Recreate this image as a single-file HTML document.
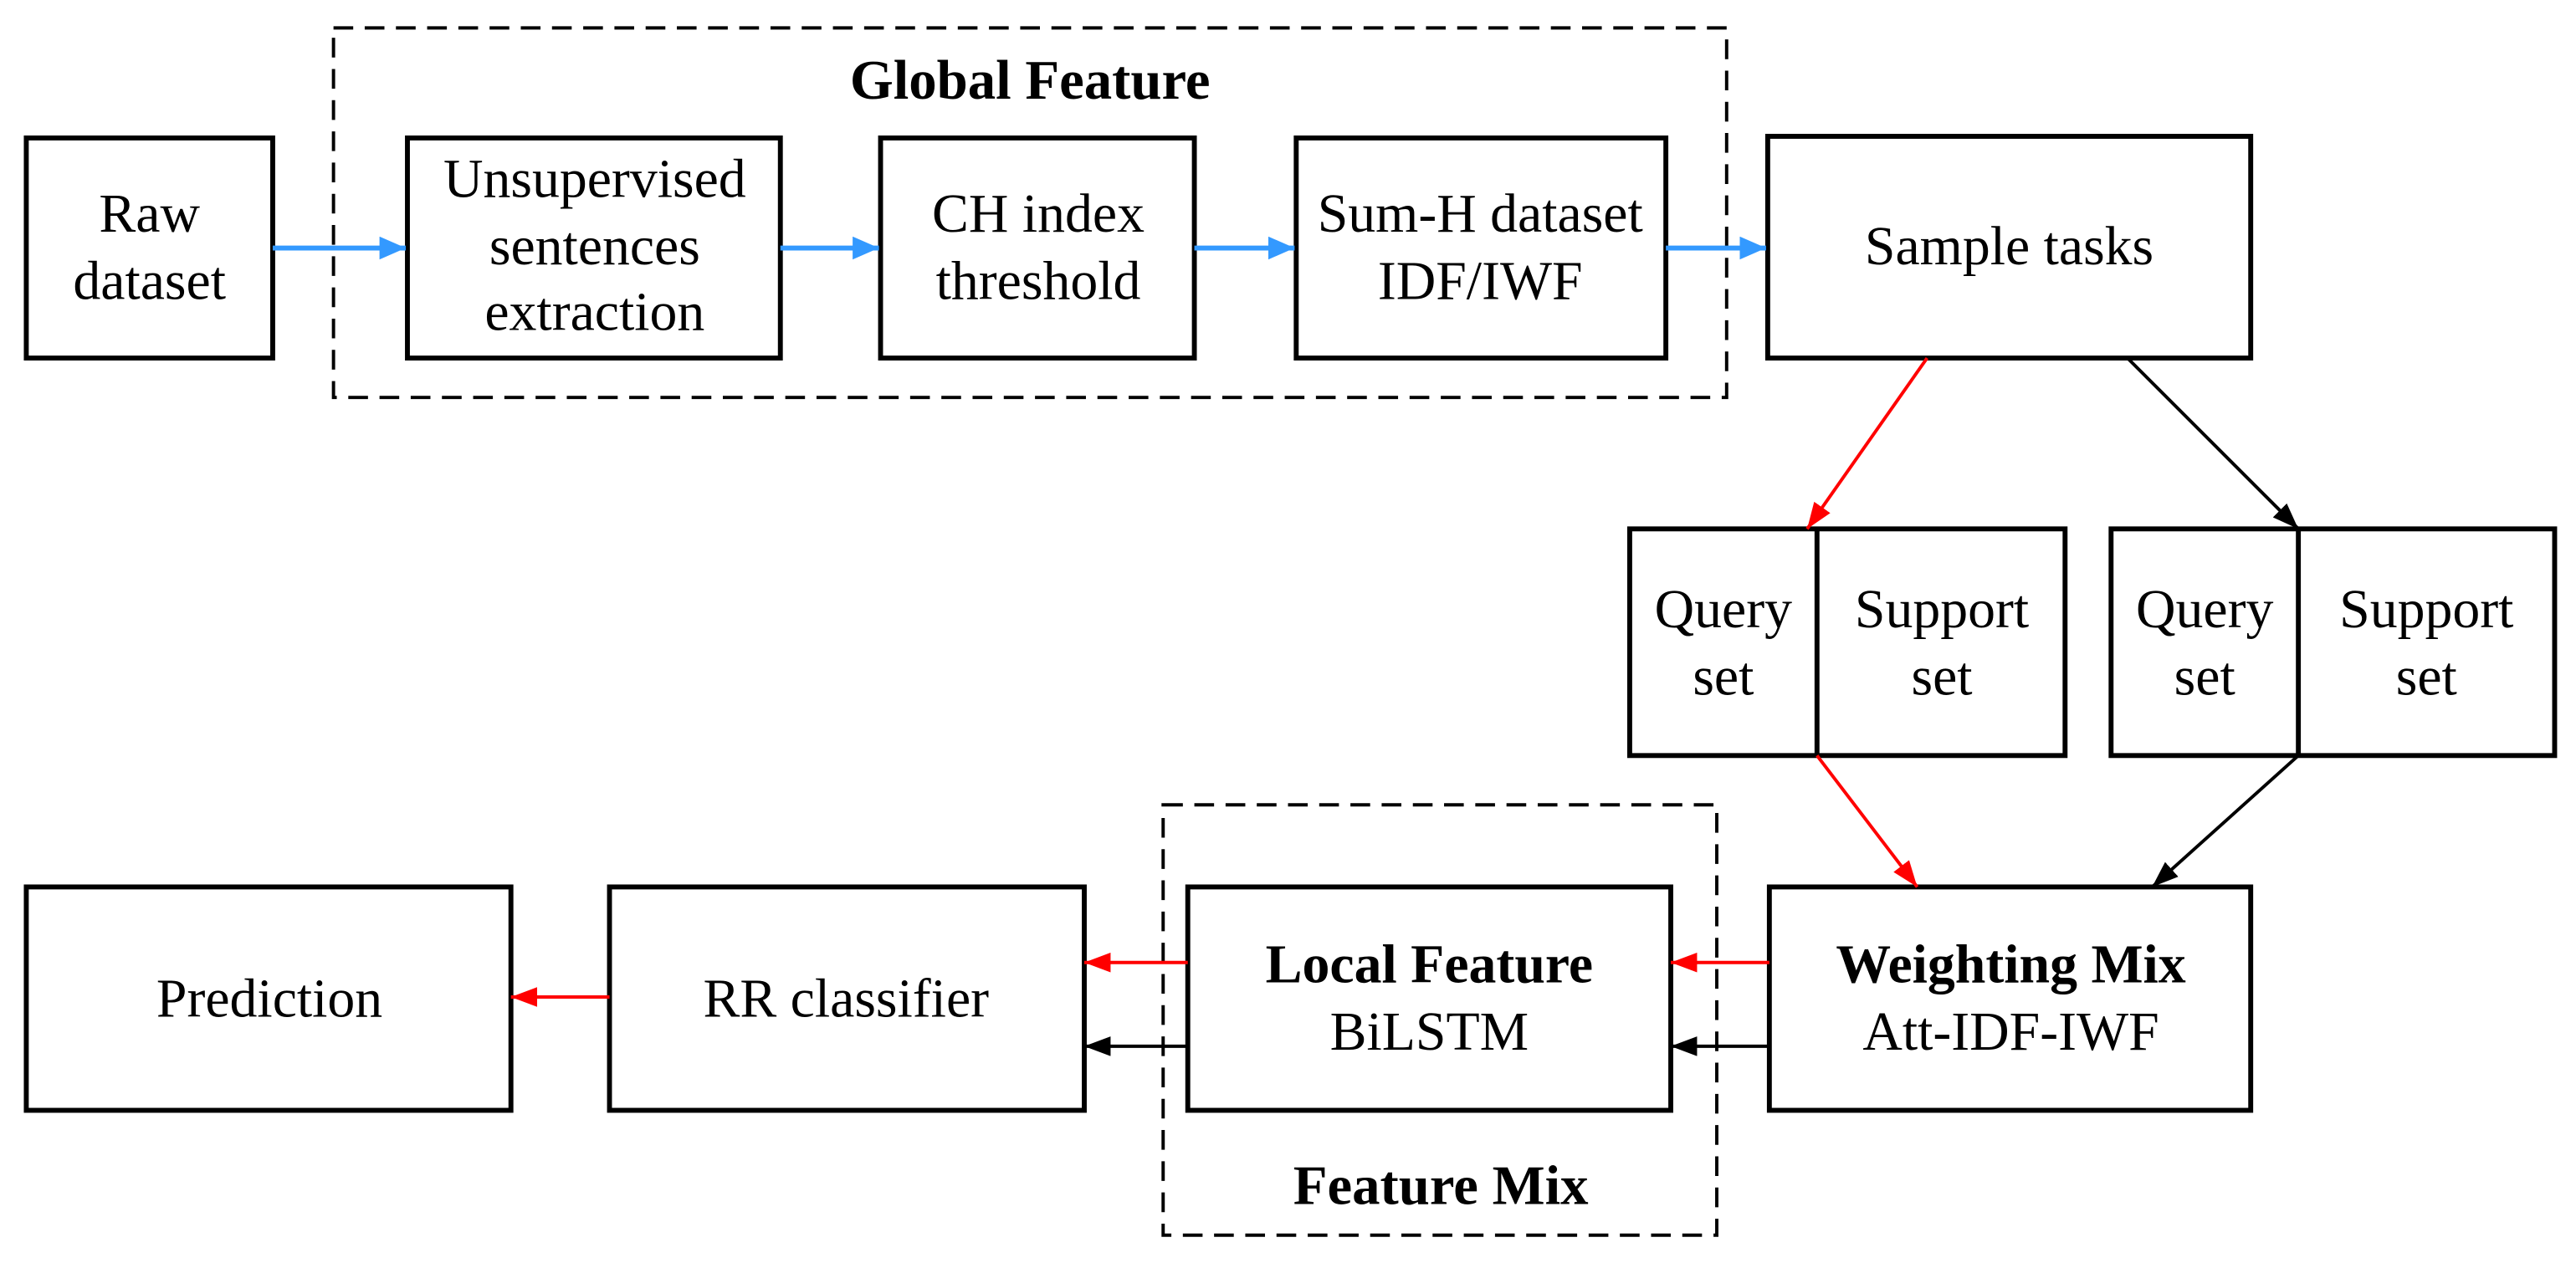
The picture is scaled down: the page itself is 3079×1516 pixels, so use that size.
<!DOCTYPE html>
<html><head><meta charset="utf-8"><style>html,body{margin:0;padding:0;background:#fff}svg{display:block}</style></head>
<body>
<svg width="3079" height="1516" viewBox="0 0 1568 772" preserveAspectRatio="none" xmlns="http://www.w3.org/2000/svg" font-family="'Liberation Serif', serif" font-size="33.5" text-anchor="middle">
<defs>
<marker id="ab" markerWidth="16" markerHeight="14" refX="16" refY="7" orient="auto" markerUnits="userSpaceOnUse"><path d="M0,0 L16,7 L0,14 z" fill="#3399ff"/></marker>
<marker id="ar" markerWidth="16" markerHeight="12" refX="16" refY="6" orient="auto" markerUnits="userSpaceOnUse"><path d="M0,0 L16,6 L0,12 z" fill="#ff0000"/></marker>
<marker id="ak" markerWidth="16" markerHeight="12" refX="16" refY="6" orient="auto" markerUnits="userSpaceOnUse"><path d="M0,0 L16,6 L0,12 z" fill="#000"/></marker>
</defs>
<g fill="none" stroke="#000" stroke-width="2" stroke-dasharray="12,7">
<rect x="203" y="17" width="848" height="225"/>
<rect x="708" y="490" width="337" height="262"/>
</g>
<g fill="#fff" stroke="#000" stroke-width="3">
<rect x="16" y="84" width="150" height="134"/>
<rect x="248" y="84" width="227" height="134"/>
<rect x="536" y="84" width="191" height="134"/>
<rect x="789" y="84" width="225" height="134"/>
<rect x="1076" y="83" width="294" height="135"/>
<rect x="992" y="322" width="265" height="138"/>
<rect x="1285" y="322" width="270" height="138"/>
<rect x="1077" y="540" width="293" height="136"/>
<rect x="723" y="540" width="294" height="136"/>
<rect x="371" y="540" width="289" height="136"/>
<rect x="16" y="540" width="295" height="136"/>
</g>
<g stroke="#000" stroke-width="3"><line x1="1106" y1="322" x2="1106" y2="460"/><line x1="1399" y1="322" x2="1399" y2="460"/></g>
<g stroke="#3399ff" stroke-width="3" marker-end="url(#ab)" fill="none">
<line x1="166" y1="151" x2="247" y2="151"/>
<line x1="475" y1="151" x2="535" y2="151"/>
<line x1="727" y1="151" x2="788" y2="151"/>
<line x1="1014" y1="151" x2="1075" y2="151"/>
</g>
<g stroke="#ff0000" stroke-width="2" marker-end="url(#ar)">
<line x1="1173" y1="218" x2="1100" y2="322"/>
<line x1="1106" y1="460" x2="1167" y2="540"/>
<line x1="1077" y1="586" x2="1017" y2="586"/>
<line x1="723" y1="586" x2="660" y2="586"/>
<line x1="371" y1="607" x2="311" y2="607"/>
</g>
<g stroke="#000" stroke-width="2" marker-end="url(#ak)">
<line x1="1295" y1="218" x2="1399" y2="322"/>
<line x1="1399" y1="460" x2="1310" y2="540"/>
<line x1="1077" y1="637" x2="1017" y2="637"/>
<line x1="723" y1="637" x2="660" y2="637"/>
</g>
<g fill="#000">
<text x="627" y="60" font-weight="bold" font-size="34">Global Feature</text>
<text x="91" y="141">Raw</text><text x="91" y="182">dataset</text>
<text x="362" y="120">Unsupervised</text><text x="362" y="161">sentences</text><text x="362" y="201">extraction</text>
<text x="632" y="141">CH index</text><text x="632" y="182">threshold</text>
<text x="901" y="141">Sum-H dataset</text><text x="901" y="182">IDF/IWF</text>
<text x="1223" y="161">Sample tasks</text>
<text x="1049" y="382">Query</text><text x="1049" y="423">set</text>
<text x="1182" y="382">Support</text><text x="1182" y="423">set</text>
<text x="1342" y="382">Query</text><text x="1342" y="423">set</text>
<text x="1477" y="382">Support</text><text x="1477" y="423">set</text>
<text x="1224" y="598" font-weight="bold">Weighting Mix</text><text x="1224" y="639">Att-IDF-IWF</text>
<text x="870" y="598" font-weight="bold">Local Feature</text><text x="870" y="639">BiLSTM</text>
<text x="877" y="733" font-weight="bold" font-size="34">Feature Mix</text>
<text x="515" y="619">RR classifier</text>
<text x="164" y="619">Prediction</text>
</g>
</svg>
</body></html>
